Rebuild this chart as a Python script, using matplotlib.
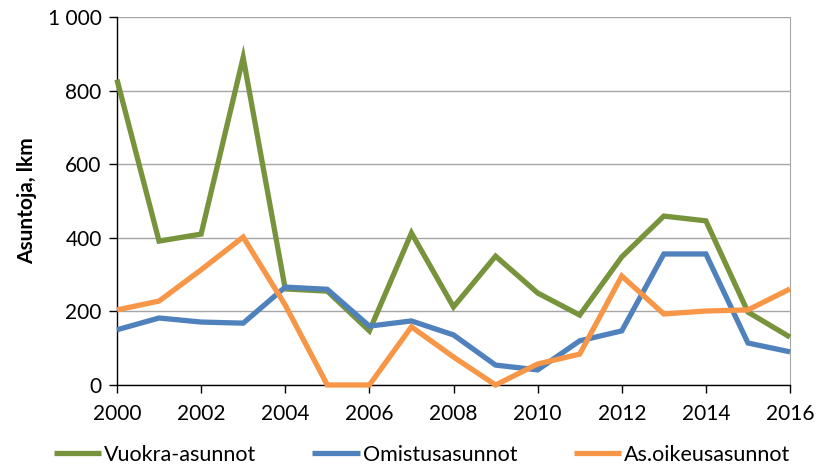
import numpy as np
import matplotlib.pyplot as plt
from matplotlib.ticker import FuncFormatter

plt.rcParams['font.family'] = ['Lato', 'DejaVu Sans']

# Data
years = list(range(2000, 2017))
vuokra = [830, 391, 410, 890, 261, 255, 147, 413, 212, 350, 250, 190, 348, 459, 446, 198, 130]
omistus = [150, 182, 171, 168, 266, 260, 160, 174, 136, 54, 41, 120, 147, 356, 356, 114, 90]
asoikeus = [204, 228, 313, 402, 217, 0, 0, 158, 76, 0, 57, 84, 296, 193, 201, 204, 261]

series_names = ['Vuokra-asunnot', 'Omistusasunnot', 'As.oikeusasunnot']
colors = ['#77933C', '#4F81BD', '#F79646']

fig = plt.figure(figsize=(8.29, 4.68), dpi=100)
ax = fig.add_axes([0.1411, 0.1774, 0.8119, 0.7863])

for i, (vals, name, col) in enumerate(zip([vuokra, omistus, asoikeus], series_names, colors)):
    ax.plot(years, vals, color=col, linewidth=3.8, label=name,
            solid_joinstyle='miter', solid_capstyle='butt', zorder=3 + i, clip_on=False)

ax.set_xlim(2000, 2016)
ax.set_ylim(0, 1000)
ax.set_xticks(range(2000, 2017, 2))
ax.set_yticks(range(0, 1001, 200))
ax.yaxis.set_major_formatter(FuncFormatter(lambda v, p: f'{int(v):,}'.replace(',', ' ')))

ax.grid(axis='y', color='#A6A6A6', linewidth=1.0, zorder=0)
ax.set_axisbelow(True)

ax.spines['top'].set_visible(False)
ax.spines['right'].set_color('#A6A6A6')
for side in ['left', 'bottom']:
    ax.spines[side].set_color('black')
    ax.spines[side].set_linewidth(1.0)

ax.tick_params(axis='both', direction='out', length=6, width=1, labelsize=15,
               colors='black', pad=5)
ax.tick_params(axis='x', pad=8)

ax.set_ylabel('Asuntoja, lkm', fontsize=15, fontweight='bold', labelpad=8)

fig.legend(loc='center', bbox_to_anchor=(422 / 829, 13 / 468), bbox_transform=fig.transFigure,
           ncol=3, frameon=False, fontsize=15.5, handlelength=2.2,
           columnspacing=2.6, handletextpad=0.15)

fig.savefig('out.png', dpi=100)
